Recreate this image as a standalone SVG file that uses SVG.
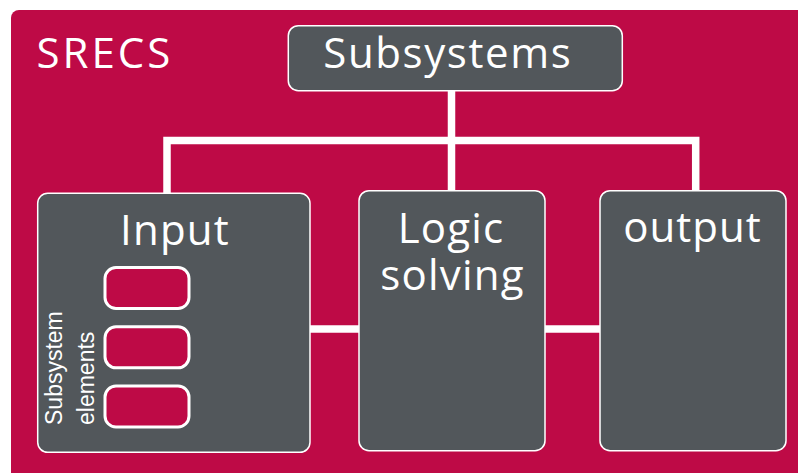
<svg xmlns="http://www.w3.org/2000/svg" width="798" height="473" viewBox="0 0 798 473">
<style>
.bg{fill:#BE0A46}
.node{fill:#52575B;stroke:#FFFFFF;stroke-width:1.5}
.elem{fill:#BE0A46;stroke:#FFFFFF;stroke-width:3}
.conn{fill:none;stroke:#FFFFFF;stroke-width:7.5;stroke-linejoin:miter}
.t{font-family:"Open Sans","Liberation Sans",sans-serif;fill:#FFFFFF;font-size:42px}
.s{font-family:"Liberation Sans","Open Sans",sans-serif;fill:#FFFFFF;font-size:23px}
</style>
<rect width="798" height="473" fill="#FFFFFF"/>
<rect class="bg" x="11" y="10" width="800" height="480" rx="8"/>
<text class="t" x="36.5" y="68.3" style="letter-spacing:3px">SRECS</text>
<g id="connectors">
<path class="conn" d="M167,193 V140.5 H695.7 V191"/>
<path class="conn" d="M451.5,90 V191"/>
<path class="conn" d="M310,329 H359"/>
<path class="conn" d="M545,329 H600"/>
</g>
<g id="subsystems">
<rect class="node" x="288.3" y="25.7" width="334" height="65" rx="10"/>
<text class="t" x="323.3" y="68.3" style="letter-spacing:1.6px">Subsystems</text>
</g>
<g id="input">
<rect class="node" x="37.7" y="193.3" width="272.3" height="259" rx="10"/>
<text class="t" x="175" y="245" text-anchor="middle" style="letter-spacing:1.2px">Input</text>
<rect class="elem" x="105" y="267.5" width="84" height="41" rx="11"/>
<rect class="elem" x="105" y="326.8" width="84" height="41" rx="11"/>
<rect class="elem" x="105" y="386" width="84" height="41" rx="11"/>
<text class="s" transform="translate(62,425) rotate(-90)">Subsystem</text>
<text class="s" transform="translate(93.5,425) rotate(-90)">elements</text>
</g>
<g id="logic">
<rect class="node" x="359" y="190.7" width="186" height="260" rx="10"/>
<text class="t" text-anchor="middle" style="letter-spacing:1.2px"><tspan x="451" y="243.3">Logic</tspan><tspan x="452.5" y="290">solving</tspan></text>
</g>
<g id="output">
<rect class="node" x="600" y="190.7" width="186" height="260" rx="10"/>
<text class="t" x="692.5" y="242" text-anchor="middle" style="letter-spacing:1px">output</text>
</g>
</svg>
